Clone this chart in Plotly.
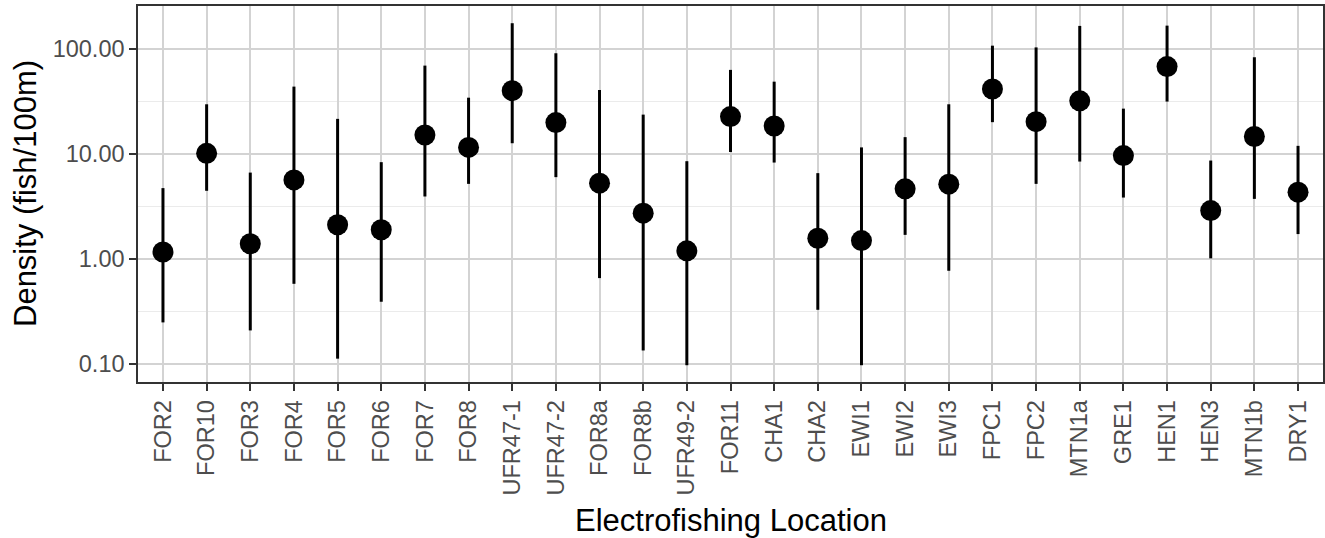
import plotly.graph_objects as go

# Electrofishing sites, in plotting order
locations = ["FOR2", "FOR10", "FOR3", "FOR4", "FOR5", "FOR6", "FOR7", "FOR8",
             "UFR47-1", "UFR47-2", "FOR8a", "FOR8b", "UFR49-2", "FOR11", "CHA1",
             "CHA2", "EWI1", "EWI2", "EWI3", "FPC1", "FPC2", "MTN1a", "GRE1",
             "HEN1", "HEN3", "MTN1b", "DRY1"]

# Estimated density (fish/100m) with lower and upper confidence limits
density = [1.16, 10.1, 1.39, 5.64, 2.11, 1.89, 15.1, 11.5,
           39.9, 19.8, 5.25, 2.72, 1.19, 22.6, 18.4,
           1.57, 1.49, 4.64, 5.14, 41.4, 20.2, 31.9, 9.61,
           67.6, 2.88, 14.6, 4.31]
lower = [0.248, 4.44, 0.208, 0.578, 0.112, 0.39, 3.92, 5.17,
         12.6, 5.99, 0.655, 0.134, 0.097, 10.4, 8.25,
         0.327, 0.097, 1.69, 0.769, 20.0, 5.17, 8.43, 3.83,
         31.4, 1.01, 3.72, 1.72]
upper = [4.71, 29.6, 6.62, 43.6, 21.5, 8.32, 69.1, 34.2,
         175.0, 90.6, 40.5, 23.6, 8.5, 62.9, 48.6,
         6.54, 11.5, 14.4, 29.6, 107.0, 103.0, 165.0, 26.9,
         166.0, 8.62, 83.0, 11.9]

y_tick_vals = [0.1, 1, 10, 100]
y_tick_text = ["0.10", "1.00", "10.00", "100.00"]
y_minor_vals = [10 ** -0.5, 10 ** 0.5, 10 ** 1.5]

FONT = "Liberation Sans, Arial, Helvetica, sans-serif"

fig = go.Figure()

# Confidence-interval segments
for loc, lo, hi in zip(locations, lower, upper):
    fig.add_trace(go.Scatter(
        x=[loc, loc], y=[lo, hi], mode="lines",
        line=dict(color="black", width=3),
        hoverinfo="skip", showlegend=False,
    ))

# Point estimates
fig.add_trace(go.Scatter(
    x=locations, y=density, mode="markers",
    marker=dict(color="black", size=21, line=dict(width=0)),
    showlegend=False,
))

fig.update_layout(
    width=1325, height=538,
    margin=dict(l=138, r=2, t=6, b=156),
    paper_bgcolor="white", plot_bgcolor="white",
    font=dict(family=FONT),
    xaxis=dict(
        type="category",
        categoryorder="array", categoryarray=locations,
        range=[-0.572, 26.572],
        showgrid=True, gridcolor="#d3d3d3", gridwidth=2.2,
        tickangle=-90,
        ticks="outside", ticklen=7, tickwidth=2, tickcolor="#333333",
        tickfont=dict(size=23.5, color="#4d4d4d", family=FONT),
        showline=True, linecolor="#333333", linewidth=1.5, mirror=True,
        zeroline=False, automargin=False,
    ),
    yaxis=dict(
        type="log",
        range=[-1.173, 2.407],
        tickvals=y_tick_vals, ticktext=y_tick_text,
        showgrid=True, gridcolor="#d3d3d3", gridwidth=2.2,
        minor=dict(tickvals=y_minor_vals, showgrid=True,
                   gridcolor="#ebebeb", gridwidth=1.2, ticklen=0),
        ticks="outside", ticklen=7, tickwidth=2, tickcolor="#333333",
        tickfont=dict(size=23.5, color="#4d4d4d", family=FONT),
        showline=True, linecolor="#333333", linewidth=1.5, mirror=True,
        zeroline=False, automargin=False,
    ),
    annotations=[
        dict(text="Density (fish/100m)", textangle=-90,
             xref="paper", yref="paper", x=0, y=0.5,
             xanchor="center", yanchor="middle", xshift=-113,
             showarrow=False, font=dict(size=31, color="black", family=FONT)),
        dict(text="Electrofishing Location",
             xref="paper", yref="paper", x=0.5, y=0,
             xanchor="center", yanchor="top", yshift=-119,
             showarrow=False, font=dict(size=31, color="black", family=FONT)),
    ],
)

fig.write_html("out.html")
